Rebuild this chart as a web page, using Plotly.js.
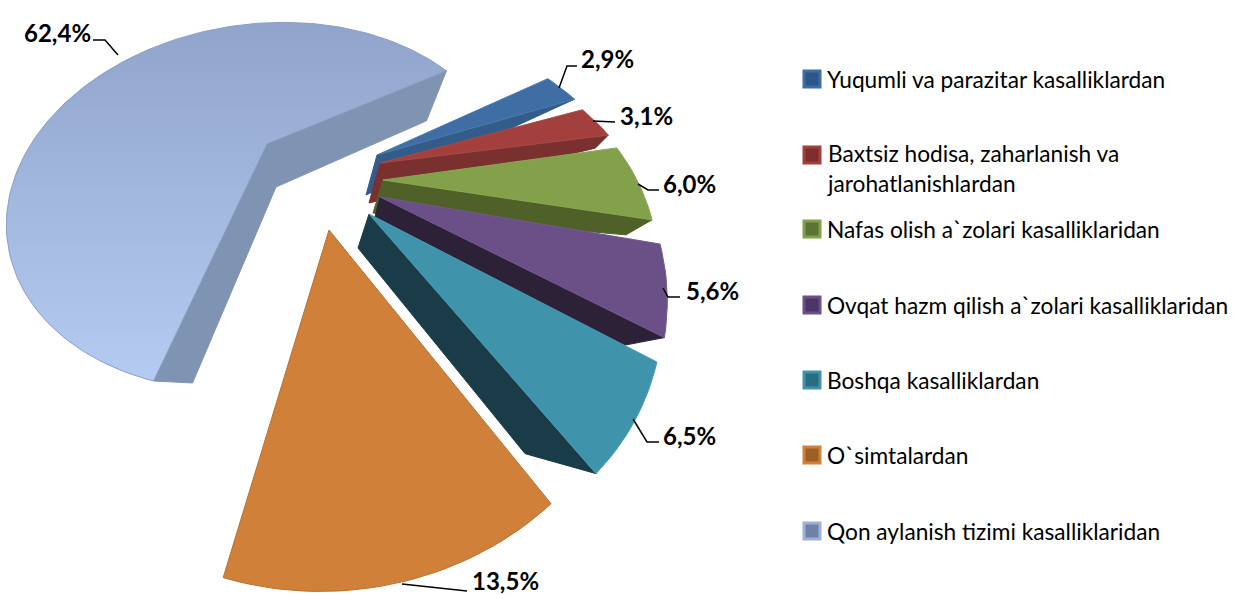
<!DOCTYPE html>
<html><head><meta charset="utf-8">
<script src="https://cdn.plot.ly/plotly-3.0.1.min.js"></script>
<style>html,body{margin:0;padding:0;background:#fff}#c{width:1241px;height:595px}</style>
</head><body><div id="c"></div>
<script>
// ---- data ----
const categories = ["Yuqumli va parazitar kasalliklardan","Baxtsiz hodisa, zaharlanish va<br>jarohatlanishlardan","Nafas olish a`zolari kasalliklaridan","Ovqat hazm qilish a`zolari kasalliklaridan","Boshqa kasalliklardan","O`simtalardan","Qon aylanish tizimi kasalliklaridan"];
const shares = [2.9,3.1,6.0,5.6,6.5,13.5,62.4];
const topColors = ["#3f6ea5","#a33f3c","#83a04a","#6b5088","#3f93ab","#d08038","#9db1d8"];
const edgeColors = ["#4a79ad","#a84a47","#8aa653","#73588f","#4a9bb2","#b8702e","#8a9dc4"];
const wallColors = ["#335c8a","#7b3030","#4f6128","#2d2138","#1a3c48","#a8642a","#7f93b3"];
const legendFill = ["#2f5688","#7d2e2c","#5a7433","#4a3566","#2a6c80","#9c5f24","#6f82a6"];
// ---- pie projection settings, one entry per slice ----
const startDeg = 58;
const persp = [0.38,0.38,0.38,0.3,0.3,0.3,0.34];
const shear = [0,0,0,29.5,15.6,-6,-22];
const apexX = [377,380,383,380,369,329,267];
const apexY = [155,163,180,197,214,230,144];
const radA = [242,248,254,263,275,299,236];
const radB = [173,165,190,228,240,253,163];
const wallInner = [[-11,40],[-11,40],[-10,33],[-5,20],[-11,34],null,[9,43]];
const wallOuter = [[-22,10],[-13,13],[-26,15],[-42,8],[-71,-20],null,[-20,50]];
const bigStartWallOuter = [39,2];
const labelX = [580,619,662,685,662,471,23];
const labelY = [58,115,183,290,435,580,32];
const legendX = 812;
const legendY = [79,155,229,305,380,455,531];
const leaderPaths = ["M559,88L567,66H577","M593,121L615,122","M638,184L648,190H659","M663,288L668,297H680","M633,419L647,442H659","M402,584L467,591","M118,55L105,40H93"];

function project(i, deg){
  const t = deg*Math.PI/180, u = Math.sin(t), v = -Math.cos(t), s = 1/(1-persp[i]*v);
  return [apexX[i]+(radA[i]*u+shear[i]*v)*s, apexY[i]+radB[i]*v*s];
}
const traces = [];
function poly(name, pts, fill, line, extra){
  traces.push(Object.assign({type:"scatter",mode:"lines",name:name,x:pts.map(p=>p[0]),y:pts.map(p=>p[1]),
    fill:"toself",fillcolor:fill,line:{color:line,width:1},hoverinfo:"skip",showlegend:false},extra||{}));
}
let cum = 0;
const ranges = shares.map(s=>{const a=startDeg+cum*3.6; cum+=s; return [a,startDeg+cum*3.6];});
const drawOrder = [6,0,1,2,3,4,5];
drawOrder.forEach(i=>{
  const [a,b] = ranges[i];
  const apex = [apexX[i],apexY[i]];
  const wi = wallInner[i], wo = wallOuter[i];
  if(wi){
    const low = [apex[0]+wi[0],apex[1]+wi[1]];
    if(i===6){
      const c = project(i,a);
      poly(categories[i]+" wall",[apex,c,[c[0]+bigStartWallOuter[0],c[1]+bigStartWallOuter[1]],low,apex],wallColors[i],wallColors[i]);
    }
    const c = project(i,b);
    poly(categories[i]+" wall",[apex,c,[c[0]+wo[0],c[1]+wo[1]],low,apex],wallColors[i],wallColors[i]);
  }
  const pts = [apex];
  for(let d=a; d<b; d+=1.5) pts.push(project(i,d));
  pts.push(project(i,b)); pts.push(apex);
  const extra = i===6 ? {fillgradient:{type:"vertical",start:15,stop:385,colorscale:[[0,"#8fa3cb"],[0.5,"#a3b8de"],[1,"#b6cbf1"]]}} : {};
  poly(categories[i],pts,topColors[i],edgeColors[i],extra);
});
// legend swatches
categories.forEach((c,i)=>traces.push({type:"scatter",mode:"markers",x:[legendX],y:[legendY[i]],hoverinfo:"skip",showlegend:false,
  marker:{symbol:"square",size:16,color:legendFill[i],line:{color:topColors[i],width:3}}}));
const annotations = [];
shares.forEach((s,i)=>annotations.push({xref:"x",yref:"y",x:labelX[i],y:labelY[i],xanchor:"left",yanchor:"middle",showarrow:false,
  text:"<b>"+s.toFixed(1).replace(".",",")+"%</b>",font:{family:"Lato",size:24,color:"#000"},borderpad:0}));
categories.forEach((c,i)=>annotations.push({xref:"x",yref:"y",x:826,y:legendY[i]+(i===1?13:0),xanchor:"left",yanchor:"middle",align:"left",showarrow:false,
  text:c,font:{family:"Lato",size:22.7,color:"#000"},borderpad:0}));
Plotly.newPlot("c",traces,{
  width:1241,height:595,margin:{l:0,r:0,t:0,b:0},paper_bgcolor:"#fff",plot_bgcolor:"#fff",showlegend:false,
  xaxis:{range:[0,1241],visible:false,fixedrange:true},
  yaxis:{range:[595,0],visible:false,fixedrange:true},
  annotations:annotations,
  shapes:leaderPaths.map(p=>({type:"path",path:p,xref:"x",yref:"y",line:{color:"#000",width:1.5}}))
},{displayModeBar:false,staticPlot:true});
</script></body></html>
